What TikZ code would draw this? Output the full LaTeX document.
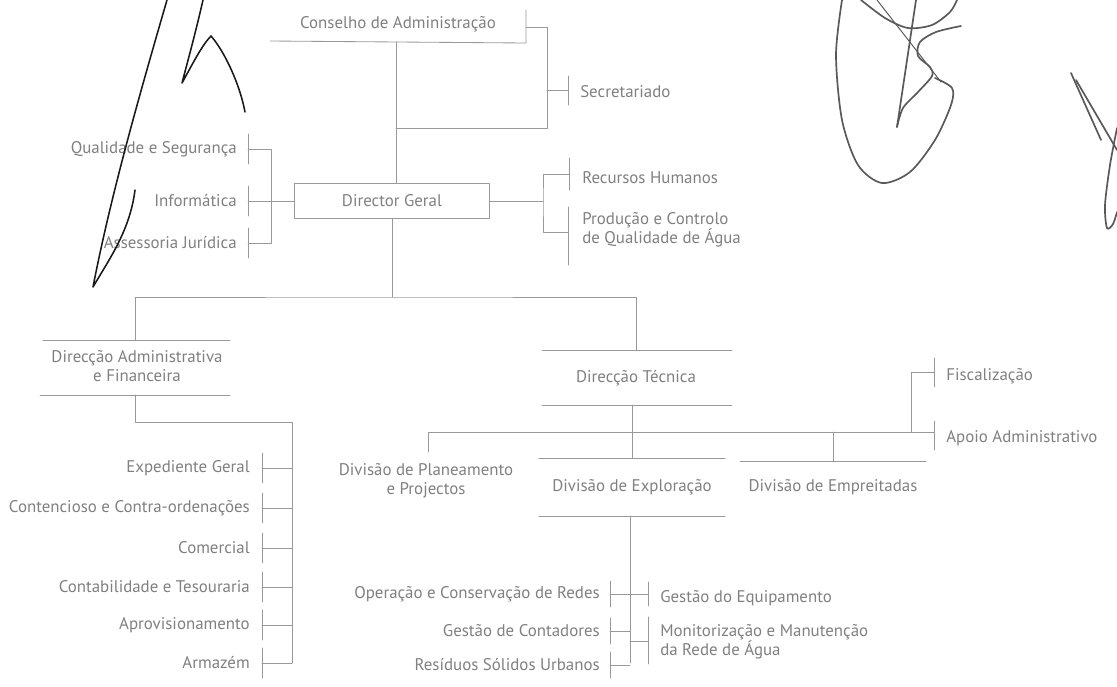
\documentclass[tikz,border=0pt]{standalone}
\usepackage{fontspec}
\setmainfont{PT Sans}
\usetikzlibrary{calc}

\begin{document}
\begin{tikzpicture}[x=0.025cm, y=-0.025cm, line join=round, line cap=round,
	lbl/.style={text=black!50, font=\fontsize{12}{13.5}\selectfont, inner sep=0pt},
	ln/.style={draw=black!40, line width=0.6pt},
	sig/.style={draw=black!90, line width=1.1pt},
	sigg/.style={draw=black!65, line width=1.2pt}]
	\useasboundingbox (0,0) rectangle (1117,686);
	% conselho e secretariado
	\node[lbl] (cons) at (398,24) {Conselho de Administração};
	\draw[ln] (270,41) -- (526,43) -- (526,10);
	\coordinate (c-sec) at (547,27);
	\coordinate (t-sec) at (568,90);
	\draw[ln] (526,27) -- (c-sec) -- (547,128) -- (396,128);
	\draw[ln] (c-sec |- t-sec) -- (t-sec);
	\draw[ln] (568,76) -- (568,105);
	\node[lbl,anchor=west] (sec) at (580,92) {Secretariado};
	% director geral
	\node[lbl, draw=black!40, line width=0.6pt, minimum width=4.875cm, minimum height=0.875cm] (dg) at (392,201) {Director Geral};
	\draw[ln] (396,42) -- (dg.north -| 396,0);
	% staff a esquerda
	\foreach \n/\y/\t in {qual/149/{Qualidade e Segurança}, inf/201/{Informática}, ass/243/{Assessoria Jurídica}}{
		\node[lbl,anchor=east] (\n) at (237,\y) {\t};
		\coordinate (t-\n) at (248,\y);
		\draw[ln] (248,\y-15) -- (248,\y+15);
	}
	\draw[ln] (t-qual) -- ++(23,0) |- (t-ass);
	\draw[ln] (t-inf) -- (dg.west);
	% staff a direita
	\node[lbl,anchor=west] (rh) at (582,178) {Recursos Humanos};
	\node[lbl,anchor=north west,align=left] (prod) at (582,212) {Produção e Controlo\\de Qualidade de Água};
	\coordinate (t-rh) at (569,174);
	\coordinate (t-prod) at (568,232);
	\coordinate (c-dg) at (543,201);
	\draw[ln] (569,158) -- (569,190);
	\draw[ln] (568,207) -- (568,265);
	\draw[ln] (dg.east) -- (c-dg);
	\draw[ln] (t-rh) -| (c-dg) |- (t-prod);
	% direccoes
	\coordinate (h-dg) at (392,297);
	\draw[ln] (dg.south) -- (h-dg);
	\draw[ln] (135,340) |- (h-dg) -| (636,350);
	% direccao administrativa e financeira
	\node[lbl,align=center] (daf) at (137,366) {Direcção Administrativa\\e Financeira};
	\draw[ln] (43,340) -- (230,340);
	\draw[ln] (40,395) -- (230,395);
	\coordinate (c-daf) at (292,422);
	\draw[ln] (135,395) |- (c-daf) -- (292,663);
	\foreach \n/\y/\t in {exp/468/{Expediente Geral}, cont/508/{Contencioso e Contra-ordenações}, com/548/{Comercial}, tes/587/{Contabilidade e Tesouraria}, apr/625/{Aprovisionamento}, arm/663/{Armazém}}{
		\node[lbl,anchor=east] (\n) at (250,\y) {\t};
		\coordinate (t-\n) at (262,\y);
		\draw[ln] (262,\y-15) -- (262,\y+15);
		\draw[ln] (t-\n) -- (t-\n -| c-daf);
	}
	% direccao tecnica
	\node[lbl] (dt) at (636,378) {Direcção Técnica};
	\draw[ln] (542,350) -- (732,350);
	\draw[ln] (542,405) -- (732,405);
	\coordinate (h-dt) at (632,432);
	\draw[ln] (632,405) -- (632,458);
	\draw[ln] (428,452) -- (428,432) -- (934,432);
	% divisoes
	\node[lbl,align=center] (plan) at (426,481) {Divisão de Planeamento\\e Projectos};
	\node[lbl] (expl) at (632,487) {Divisão de Exploração};
	\draw[ln] (539,458) -- (725,458);
	\draw[ln] (539,516) -- (725,516);
	\node[lbl] (empr) at (833,487) {Divisão de Empreitadas};
	\draw[ln] (740,461) -- (926,461);
	\draw[ln] (833,432) -- (833,461);
	% fiscalizacao e apoio
	\coordinate (t-fis) at (934,372);
	\coordinate (t-apo) at (934,432);
	\draw[ln] (911,432) |- (t-fis);
	\draw[ln] (934,358) -- (934,387);
	\draw[ln] (934,421) -- (934,450);
	\node[lbl,anchor=west] (fis) at (946,376) {Fiscalização};
	\node[lbl,anchor=west] (apo) at (946,438) {Apoio Administrativo};
	% exploracao
	\coordinate (c-expl) at (630,663);
	\draw[ln] (630,516) -- (c-expl);
	\foreach \n/\y/\t in {op/594/{Operação e Conservação de Redes}, gc/631/{Gestão de Contadores}, rsu/665/{Resíduos Sólidos Urbanos}}{
		\node[lbl,anchor=east] (\n) at (600,\y) {\t};
		\coordinate (t-\n) at (610,\y);
		\draw[ln] (610,\y-13) -- (610,\y+13);
		\draw[ln] (t-\n) -- (t-\n -| c-expl);
	}
	\node[lbl,anchor=west] (ge) at (660,598) {Gestão do Equipamento};
	\node[lbl,anchor=north west,align=left] (mon) at (660,624) {Monitorização e Manutenção\\da Rede de Água};
	\coordinate (t-ge) at (648,594);
	\coordinate (t-mon) at (648,641);
	\draw[ln] (648,582) -- (648,606);
	\draw[ln] (648,617) -- (648,664);
	\draw[ln] (c-expl |- t-ge) -- (t-ge);
	\draw[ln] (c-expl |- t-mon) -- (t-mon);
	% assinaturas
	\draw[sig] (167,0) .. controls (135,110) and (110,200) .. (93,287)
		.. controls (110,258) and (130,230) .. (135,190);
	\draw[sig] (203,0) .. controls (195,35) and (188,60) .. (182,83)
		.. controls (192,65) and (202,45) .. (211,36)
		.. controls (225,52) and (240,85) .. (245,112);
	\draw[sigg] plot[smooth] coordinates {(842,0) (836,55) (842,120) (858,165) (882,183) (910,172) (935,140) (951,105) (952,88) (935,78)};
	\draw[sigg] plot[smooth] coordinates {(861,0) (885,18) (908,28) (932,25) (950,12) (957,0)};
	\draw[sigg] plot[smooth] coordinates {(961,26) (936,32) (920,42) (918,56) (930,67) (932,76) (918,92) (903,108) (897,127)};
	\draw[sigg] (916,0) -- (897,127);
	\draw[sigg, line width=0.7pt] (877,0) -- (941,82);
	\draw[sigg] (1071,73) -- (1101,140);
	\draw[sigg] (1076,80) -- (1117,150);
	\draw[sigg] plot[smooth] coordinates {(1117,128) (1110,165) (1105,205) (1107,228) (1113,224) (1117,212)};
\end{tikzpicture}
\end{document}
